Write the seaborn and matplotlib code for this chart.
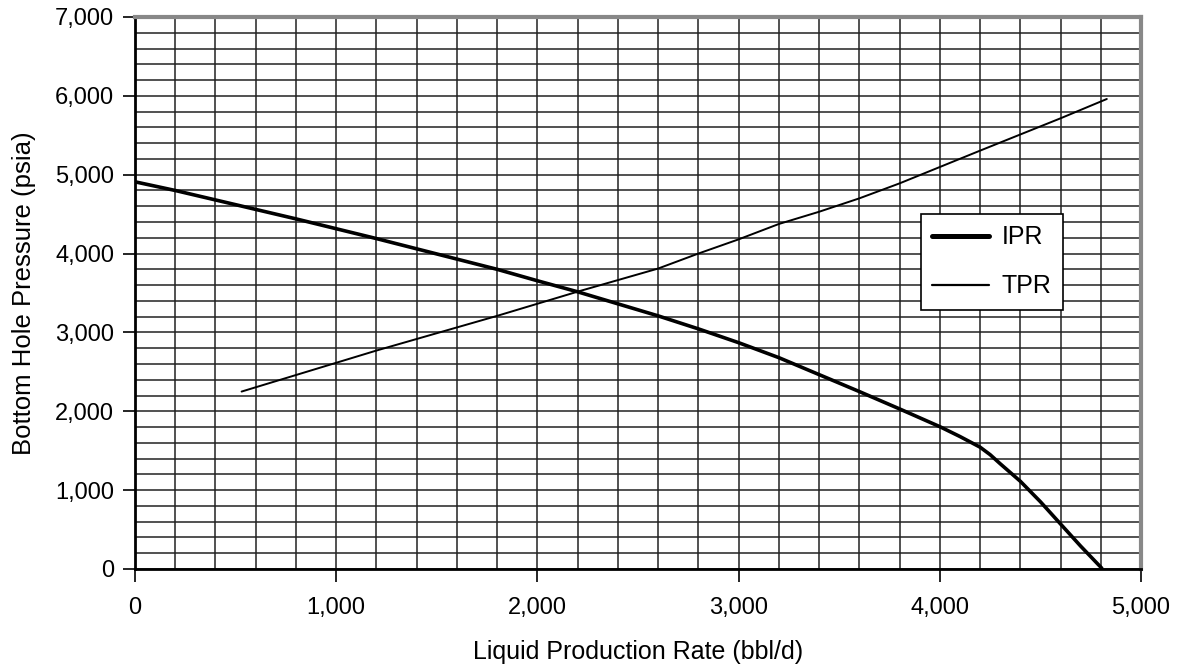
import matplotlib
matplotlib.use('Agg')
import matplotlib.pyplot as plt
import seaborn as sns
import pandas as pd
from matplotlib.ticker import MultipleLocator, StrMethodFormatter

# IPR / TPR curves
ipr_rate = [0, 200, 800, 1200, 1800, 2000, 2200, 2600, 2800, 3000, 3200, 3600, 3800, 4000, 4100, 4200,
            4250, 4300, 4400, 4500, 4600, 4700, 4805]
ipr_pressure = [4910, 4800, 4440, 4190, 3800, 3655, 3515, 3210, 3045, 2870, 2680, 2250, 2030, 1805, 1680, 1545,
                1450, 1335, 1113, 853, 571, 290, 10]

tpr_rate = [530, 1200, 1800, 2200, 2600, 2800, 3000, 3200, 3400, 3600, 3800, 4200, 4600, 4830]
tpr_pressure = [2250, 2770, 3210, 3517, 3810, 4000, 4180, 4375, 4530, 4700, 4890, 5305, 5715, 5960]

sns.set_style('white')
plt.rcParams['font.family'] = ['Liberation Sans', 'DejaVu Sans']
plt.rcParams['text.color'] = 'black'
plt.rcParams['axes.labelcolor'] = 'black'
plt.rcParams['xtick.color'] = 'black'
plt.rcParams['ytick.color'] = 'black'

df_ipr = pd.DataFrame({'rate': ipr_rate, 'pressure': ipr_pressure})
df_tpr = pd.DataFrame({'rate': tpr_rate, 'pressure': tpr_pressure})

fig = plt.figure(figsize=(11.83, 6.69), dpi=100)
ax = fig.add_axes([0.1141, 0.1495, 0.8504, 0.8251])

sns.lineplot(data=df_ipr, x='rate', y='pressure', color='black', linewidth=2.6, label='IPR', ax=ax)
sns.lineplot(data=df_tpr, x='rate', y='pressure', color='black', linewidth=1.4, label='TPR', ax=ax)

ax.set_xlim(0, 5000)
ax.set_ylim(0, 7000)
ax.xaxis.set_major_locator(MultipleLocator(1000))
ax.yaxis.set_major_locator(MultipleLocator(1000))
ax.xaxis.set_minor_locator(MultipleLocator(200))
ax.yaxis.set_minor_locator(MultipleLocator(200))
ax.xaxis.set_major_formatter(StrMethodFormatter('{x:,.0f}'))
ax.yaxis.set_major_formatter(StrMethodFormatter('{x:,.0f}'))

ax.set_axisbelow(True)
ax.grid(which='both', color='#222222', linewidth=1.1)
ax.tick_params(which='major', direction='out', length=9, width=1.2, color='black',
               labelsize=17, labelcolor='black', bottom=True, left=True)
ax.tick_params(axis='x', which='major', pad=11)
ax.tick_params(axis='y', which='major', pad=6)
ax.tick_params(which='minor', length=0)

for side in ['left', 'bottom']:
    ax.spines[side].set_color('black')
    ax.spines[side].set_linewidth(2)
for side in ['top', 'right']:
    ax.spines[side].set_color('#888888')
    ax.spines[side].set_linewidth(3)

ax.set_xlabel('Liquid Production Rate (bbl/d)', fontsize=18, labelpad=15, color='black')
ax.set_ylabel('Bottom Hole Pressure (psia)', fontsize=18.5, labelpad=14, color='black')

leg = ax.legend(loc='upper left', bbox_to_anchor=(0.781, 0.643), borderaxespad=0, fontsize=18,
                frameon=True, fancybox=False, framealpha=1, edgecolor='black',
                handlelength=2.3, borderpad=0.45, labelspacing=1.0, handletextpad=0.5)
leg.get_frame().set_linewidth(1.2)
leg.get_frame().set_facecolor('white')
leg.get_lines()[0].set_linewidth(3.6)
leg.get_lines()[1].set_linewidth(1.6)
for t in leg.get_texts():
    t.set_color('black')

fig.savefig('out.png', dpi=100)
